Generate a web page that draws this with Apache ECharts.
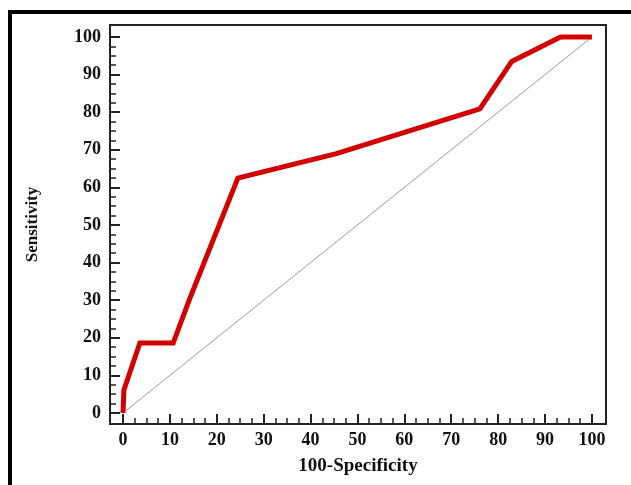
<!DOCTYPE html>
<html>
<head>
<meta charset="utf-8">
<script src="https://cdn.jsdelivr.net/npm/echarts@6/dist/echarts.min.js"></script>
<style>
html,body{margin:0;padding:0;background:#fff;}
#chart{width:631px;height:485px;}
</style>
</head>
<body>
<div id="chart"></div>
<script>
// ROC curve data
const specComplement = [0, 0.2, 3.6, 10.7, 14.3, 24.5, 45.5, 76.1, 82.9, 93.3, 100];
const sensitivity    = [0, 6.1, 18.6, 18.6, 30.6, 62.5, 69.0, 80.9, 93.5, 100, 100];
const diagX = [0, 100];
const diagY = [0, 100];
const majorTicks = [0, 10, 20, 30, 40, 50, 60, 70, 80, 90, 100];
const minorTicks = [2.5, 5, 7.5, 12.5, 15, 17.5, 22.5, 25, 27.5, 32.5, 35, 37.5, 42.5, 45, 47.5,
                    52.5, 55, 57.5, 62.5, 65, 67.5, 72.5, 75, 77.5, 82.5, 85, 87.5, 92.5, 95, 97.5];
const xRange = [-2.77, 103.0];
const yRange = [-2.93, 103.2];
const xTitle = '100-Specificity';
const yTitle = 'Sensitivity';

const font = 'Liberation Serif, Times New Roman, serif';
const chart = echarts.init(document.getElementById('chart'), null, {renderer: 'canvas'});

const rocData = specComplement.map((x, i) => [x, sensitivity[i]]);
const diagData = diagX.map((x, i) => [x, diagY[i]]);

const labelStyle = {color: '#111', fontFamily: font, fontWeight: 'bold', fontSize: 18};

function majorAxis(extra) {
  return Object.assign({
    type: 'value',
    axisLine: {show: false, onZero: false},
    axisTick: {show: true, inside: true, length: 10, customValues: majorTicks, lineStyle: {color: '#222', width: 2}},
    splitLine: {show: false}
  }, extra);
}
function minorAxis(extra) {
  return Object.assign({
    type: 'value',
    axisLine: {show: false, onZero: false},
    axisTick: {show: true, inside: true, length: 6, customValues: minorTicks, lineStyle: {color: '#222', width: 1.5}},
    splitLine: {show: false},
    axisLabel: {show: false}
  }, extra);
}

chart.setOption({
  animation: false,
  backgroundColor: '#fff',
  graphic: [{
    type: 'rect',
    shape: {x: 10, y: 12, width: 650, height: 520},
    style: {fill: null, stroke: '#000', lineWidth: 4},
    silent: true
  }],
  grid: {left: 110, right: 25, top: 25, bottom: 61, show: true, borderColor: '#222', borderWidth: 2, backgroundColor: 'transparent'},
  xAxis: [
    majorAxis({min: xRange[0], max: xRange[1], position: 'bottom',
      axisLabel: Object.assign({customValues: majorTicks, margin: 7}, labelStyle),
      name: xTitle, nameLocation: 'middle', nameGap: 33,
      nameTextStyle: {color: '#111', fontFamily: font, fontWeight: 'bold', fontSize: 19}}),
    minorAxis({min: xRange[0], max: xRange[1], position: 'bottom', offset: 0})
  ],
  yAxis: [
    majorAxis({min: yRange[0], max: yRange[1], position: 'left',
      axisLabel: Object.assign({customValues: majorTicks, margin: 9}, labelStyle),
      name: yTitle, nameLocation: 'middle', nameGap: 69, nameRotate: 90,
      nameTextStyle: {color: '#111', fontFamily: font, fontWeight: 'bold', fontSize: 17}}),
    minorAxis({min: yRange[0], max: yRange[1], position: 'left', offset: 0})
  ],
  series: [
    {
      type: 'line', xAxisIndex: 0, yAxisIndex: 0, data: diagData,
      symbol: 'none', lineStyle: {color: '#9a9a9a', width: 1}, silent: true
    },
    {
      type: 'line', xAxisIndex: 0, yAxisIndex: 0, data: rocData,
      symbol: 'none', lineStyle: {color: '#d40000', width: 5, join: 'miter'}, silent: true
    }
  ]
});
</script>
</body>
</html>
